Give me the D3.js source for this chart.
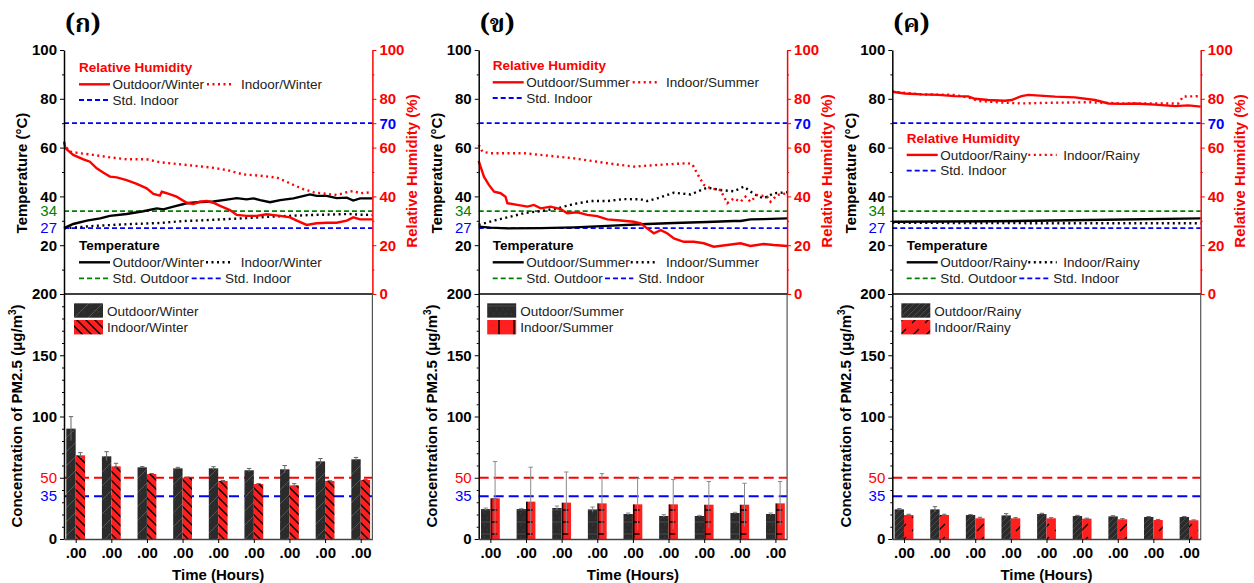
<!DOCTYPE html>
<html><head><meta charset="utf-8">
<script src="https://cdn.jsdelivr.net/npm/d3@7"></script>
<style>
body{margin:0;background:#fff;}
svg{display:block;font-family:"Liberation Sans",Arial,sans-serif;}
</style></head><body>
<script>
// ---------- DATA ----------
const hourLabels = [".00",".00",".00",".00",".00",".00",".00",".00",".00"];
const panelTitles = ["(ก)","(ข)","(ค)"];
const seasons = ["Winter","Summer","Rainy"];

// temperature / RH series: [time progress %, value]
const tempOutWinter = [[0,27.0],[3,28.7],[7.4,30.1],[11.7,31.0],[14.9,32.0],[20.3,32.8],[25.7,33.9],[30.1,35.1],[32.2,34.7],[35.5,35.8],[39.8,37.2],[44.1,37.7],[48.4,37.9],[52.8,38.7],[56,39.3],[59.2,38.8],[61.4,39.2],[63.6,38.5],[66.8,37.6],[70.1,38.5],[74.4,39.2],[79.8,40.8],[81.9,40.2],[85.2,40.2],[88.4,39.3],[91.7,39.5],[93.8,38.3],[96,39.2],[100,39.2]];
const tempInWinter = [[0,26.9],[9.5,27.9],[20.3,28.6],[31.1,29.1],[38.7,29.9],[45.2,30.2],[52.8,30.7],[59.2,31.1],[65.7,31.6],[74.4,32.1],[80.9,32.4],[87.3,32.6],[92.7,32.8],[96,32.5],[100,32.4]];
const rhOutWinter = [[0,62.5],[0.4,60],[0.9,59.3],[3,57.0],[6.3,55.2],[8.4,54.2],[10.6,51.5],[12.8,49.7],[14.9,48.1],[17.1,47.8],[20.3,46.7],[23.6,45.1],[26.8,43.3],[29,41.0],[31.1,40.3],[31.7,41.9],[33.3,41.3],[36.5,39.9],[39.8,37.4],[41.9,36.9],[44.1,37.8],[46.3,38.1],[48.4,37.4],[50.6,36.1],[53.8,34.4],[56,32.4],[59.2,32.0],[62.5,32.0],[65.7,32.7],[70.1,32.0],[73.3,31.4],[75.5,30.1],[78.7,28.3],[81.9,29.0],[85.2,29.2],[88.4,29.2],[91.7,30.1],[93.8,31.4],[96,30.6],[100,30.6]];
const rhInWinter = [[0,62],[1,59.7],[1.9,58.3],[5.2,57.7],[9.5,57.0],[14.9,56.0],[20.3,55.2],[26.8,55.2],[31.1,54.0],[41.9,52.6],[47.4,51.9],[52.8,50.8],[58.2,49.0],[63.6,48.5],[69,47.7],[72.2,46.0],[74.4,44.7],[77.6,43.0],[80.9,41.7],[85.2,41.0],[88.4,40.6],[91.7,41.7],[93.8,42.2],[96,41.3],[100,41.7]];

const tempOutSummer = [[0,27.6],[3.9,27.2],[9.3,26.9],[20.1,27.0],[30.9,27.3],[41.7,27.9],[52.5,28.6],[63.3,29.1],[74.1,29.5],[82.7,29.9],[84.9,29.9],[88.1,30.6],[92.4,30.7],[100,31.0]];
const tempInSummer = [[0,28.3],[5,30.1],[9.3,31.4],[14.7,33.1],[20.1,34.0],[25.5,35.1],[30.9,36.9],[36.3,38.1],[41.7,38.1],[47.1,38.9],[52.5,38.8],[54.6,38.1],[57.9,39.2],[63.3,41.5],[68.7,40.8],[74.1,43.6],[78.4,42.6],[82.7,42.1],[86,44.0],[89.2,41.0],[92.4,39.2],[95.7,41.3],[100,41.7]];
const rhOutSummer = [[0,54.6],[0.6,52.2],[1.7,48.1],[3.3,44.7],[5,41.9],[7.1,41.3],[8.7,39.9],[9.3,37.2],[12.5,36.5],[15.8,35.8],[17.9,36.5],[20.1,35.1],[23.3,35.8],[26.6,34.8],[28.7,33.1],[32,33.5],[35.2,32.4],[38.4,31.9],[41.7,30.6],[46,30.1],[50.3,29.6],[52.5,29.0],[54.6,26.9],[56.8,24.9],[59,26.2],[61.1,24.9],[63.3,22.8],[66.5,21.4],[69.8,21.4],[73,20.8],[76.2,19.4],[80.6,20.1],[84.9,20.8],[88.1,19.7],[92.4,20.5],[95.7,20.1],[100,19.7]];
const rhInSummer = [[0,61.1],[1.2,58.3],[3.9,57.7],[14.7,57.7],[20.1,57.0],[30.9,55.6],[41.7,53.6],[50.3,52.2],[57.9,52.9],[67.6,53.6],[69.2,53.3],[70.8,49.5],[73,44.7],[75.2,43.3],[78.4,42.6],[80.6,37.2],[82.7,39.2],[84.9,37.8],[86.5,39.9],[88.1,37.8],[90.3,40.6],[93.5,39.9],[94.6,37.8],[96.8,40.6],[100,41.3]];

const tempOutRainy = [[0,29.6],[32.5,29.8],[63.6,30.3],[100,31.0]];
const tempInRainy = [[0,29.2],[50,29.0],[100,29.0]];
const rhOutRainy = [[0,82.9],[4.1,82.2],[9.5,81.8],[14.9,81.6],[20.3,81.1],[24.6,81.0],[26.8,80.0],[31.1,79.5],[36.5,79.2],[38.7,79.5],[41.9,81.1],[44.1,81.6],[52.8,80.9],[59.2,80.6],[65.7,79.5],[70.1,78.1],[74.4,77.9],[78.7,78.1],[85.2,77.6],[91.7,77.0],[96,77.3],[100,76.8]];
const rhInRainy = [[0,82.9],[9.5,81.8],[20.3,81.6],[25.7,80.2],[27.9,79.1],[36.5,78.4],[41.9,78.1],[52.8,78.4],[63.6,78.6],[74.4,78.1],[85.2,78.1],[92.7,78.1],[94.3,80.9],[100,81.1]];

// PM2.5 (µg/m3), 9 time points
const pmOutWinter    = [90.1,67.5,58.5,57.7,57.7,56.1,56.9,63.4,65.1];
const pmOutWinterErr = [9.8,3.8,0.6,0.8,1.3,1.5,3.1,2.3,1.5];
const pmInWinter     = [68.3,59.3,53.1,50.1,47.4,44.9,43.8,47.4,48.2];
const pmInWinterErr  = [2.2,2.5,0.4,0.4,0.3,0.3,1.4,0.2,0.3];
const pmOutSummer    = [24.5,24.5,25.3,24.2,20.4,18.8,18.8,21.2,20.4];
const pmOutSummerErr = [0.8,0.5,1.6,1.9,0.8,1.1,0.5,0.6,0.8];
const pmInSummer     = [33.2,30.5,29.7,29.1,28.3,28.3,28.0,28.0,29.1];
const pmInSummerErr  = [30.0,28.1,25.0,24.3,21.0,20.2,18.9,17.5,17.8];
const pmOutRainy     = [24.2,24.2,19.6,19.3,20.4,18.8,18.5,18.0,18.0];
const pmOutRainyErr  = [0.6,2.2,0.3,1.4,0.6,0.5,0.5,0.3,0.4];
const pmInRainy      = [19.6,19.6,16.9,16.9,16.9,16.6,16.1,15.5,15.3];
const pmInRainyErr   = [0.6,0.6,0.8,0.5,0.5,0.4,0.5,0.5,0.3];

const stdTempOutdoor = 34, stdTempIndoor = 27, stdRHIndoor = 70;
const stdPMThai = 50, stdPMWHO = 35;

// ---------- LAYOUT ----------
const TOP=50, MID=294, BOT=539, PW=308.4;
const RED="#ff0000", BLUE="#0000ff", GREEN="#008000";
const panels = [
  {L:64, title:panelTitles[0], season:seasons[0], tOut:tempOutWinter, tIn:tempInWinter, hOut:rhOutWinter, hIn:rhInWinter,
   pOut:pmOutWinter, pOutE:pmOutWinterErr, pIn:pmInWinter, pInE:pmInWinterErr, pat:"w", errC:"#666",
   rhY:67.7, lx:15, rhC2:[143,169,177], tC2:[142,167,176.7], tStd:[127.7,157.7,161], swX:10},
  {L:478.7, title:panelTitles[1], season:seasons[1], tOut:tempOutSummer, tIn:tempInSummer, hOut:rhOutSummer, hIn:rhInSummer,
   pOut:pmOutSummer, pOutE:pmOutSummerErr, pIn:pmInSummer, pInE:pmInSummerErr, pat:"s", errC:"#8a8a8a",
   rhY:65.7, lx:14, rhC2:[154,178.6,187.3], tC2:[152,178.6,187.3], tStd:[126.3,154.6,159.6], swX:8.5},
  {L:892.3, title:panelTitles[2], season:seasons[2], tOut:tempOutRainy, tIn:tempInRainy, hOut:rhOutRainy, hIn:rhInRainy,
   pOut:pmOutRainy, pOutE:pmOutRainyErr, pIn:pmInRainy, pInE:pmInRainyErr, pat:"r", errC:"#666",
   rhY:138.3, lx:14.4, rhC2:[136,164.4,171], tC2:[136,164.4,171], tStd:[127,156,161], swX:9}
];

const svg = d3.select("body").append("svg").attr("width",1254).attr("height",583);
const defs = svg.append("defs");

function pattern(id, w, h, bg, lines, x0){
  const p = defs.append("pattern").attr("id",id).attr("patternUnits","userSpaceOnUse")
    .attr("width",w).attr("height",h).attr("x",x0||0);
  p.append("rect").attr("width",w).attr("height",h).attr("fill",bg);
  lines.forEach(l=>p.append("path").attr("d",l.d).attr("stroke",l.c).attr("stroke-width",l.w).attr("fill","none"));
}
const DK="#2b2b2b", RD="#ff1f1f";
pattern("out_w",14,14,DK,[{d:"M-1,15 L15,-1",c:"#555",w:1},{d:"M0,4 h1 M7,10 h1 M3,11 h1 M10,3 h1",c:"#444",w:1}]);
pattern("in_w",9,9,RD,[{d:"M0,0 L9,9 M-3,6 L3,12 M6,-3 L12,3",c:"#000",w:1.4}]);
pattern("out_s",6,12,DK,[{d:"M0,6 L6,6",c:"#4a4a4a",w:1},{d:"M1,2 h1 M4,9 h1",c:"#444",w:1}]);
pattern("out_r",6,6,DK,[{d:"M-1,7 L7,-1",c:"#4a4a4a",w:1}]);
pattern("in_r",13,13,RD,[{d:"M2,11 L9,4",c:"#000",w:1.2}]);
pattern("in_s_leg",15,15,RD,[{d:"M4,0 L4,15",c:"#000",w:1.5}]);

function tickText(sel, size, weight, fill){
  sel.selectAll("text").attr("font-size",size).attr("font-weight",weight).attr("fill",fill)
     .attr("font-family","Liberation Sans, Arial, sans-serif");
}

panels.forEach(p=>{
  const L=p.L, R=L+PW;
  const g = svg.append("g");
  const yT = d3.scaleLinear().domain([0,100]).range([MID,TOP]);
  const yB = d3.scaleLinear().domain([0,200]).range([BOT,MID]);
  const xL = d3.scaleLinear().domain([0,100]).range([L,R]);
  const xB = d3.scaleLinear().domain([0.672,9.328]).range([L,R]);
  const step = xB(2)-xB(1);
  const bw = 9.4;

  if(p.pat==="s"){
    pattern("in_s_s",step,12,RD,[{d:"M0.8,0 L0.8,12",c:"#000",w:1.5},{d:"M0,6 L6.5,6",c:"#000",w:1.5}],xB(1));
  }
  const outFill = "url(#out_"+p.pat+")";
  const inFill = p.pat==="s" ? "url(#in_s_s)" : "url(#in_"+p.pat+")";
  const inLegFill = p.pat==="s" ? "url(#in_s_leg)" : inFill;

  // title
  g.append("text").attr("x",L+1).attr("y",32).attr("font-size",25).attr("font-weight","bold")
   .attr("font-family","'Noto Serif Thai','Noto Sans Thai','Loma','Garuda','Tlwg Typo','DejaVu Serif',serif")
   .text(p.title);

  // ----- top: standard lines
  const hl = (y,c,dash,w,x1,x2)=>g.append("line").attr("x1",x1).attr("x2",x2).attr("y1",y).attr("y2",y)
      .attr("stroke",c).attr("stroke-dasharray",dash).attr("stroke-width",w);
  hl(yT(stdRHIndoor),BLUE,"5,3",1.8,L,R);
  hl(yT(stdTempOutdoor),GREEN,"5,3",1.8,L,R);
  hl(yT(stdTempIndoor),BLUE,"5,3",1.8,L,R);

  const line = d3.line().x(d=>xL(d[0])).y(d=>yT(d[1]));
  g.append("path").attr("d",line(p.tIn)).attr("fill","none").attr("stroke","#000").attr("stroke-width",2.4).attr("stroke-dasharray","2,3.5");
  g.append("path").attr("d",line(p.hIn)).attr("fill","none").attr("stroke",RED).attr("stroke-width",2.4).attr("stroke-dasharray","2,3.5");
  g.append("path").attr("d",line(p.tOut)).attr("fill","none").attr("stroke","#000").attr("stroke-width",2.4);
  g.append("path").attr("d",line(p.hOut)).attr("fill","none").attr("stroke",RED).attr("stroke-width",2.4);

  // ----- bottom: standards + bars
  const hlB = (v,c)=>hl(yB(v),c,"10,5",2,L,R);
  hlB(stdPMThai,RED); hlB(stdPMWHO,BLUE);

  const idx = d3.range(9);
  g.selectAll(null).data(idx).join("rect")
    .attr("x",i=>xB(i+1)-bw).attr("width",bw).attr("y",i=>yB(p.pOut[i])).attr("height",i=>yB(0)-yB(p.pOut[i]))
    .attr("fill",outFill);
  g.selectAll(null).data(idx).join("rect")
    .attr("x",i=>xB(i+1)).attr("width",bw).attr("y",i=>yB(p.pIn[i])).attr("height",i=>yB(0)-yB(p.pIn[i]))
    .attr("fill",inFill);
  function errs(vals, errv, off){
    idx.forEach(i=>{
      const cx = xB(i+1)+off, y1=yB(vals[i]+errv[i]), y0=yB(Math.max(0,vals[i]-errv[i]));
      g.append("line").attr("x1",cx).attr("x2",cx).attr("y1",y1).attr("y2",y0).attr("stroke",p.errC).attr("stroke-width",1);
      g.append("line").attr("x1",cx-2.2).attr("x2",cx+2.2).attr("y1",y1).attr("y2",y1).attr("stroke",p.errC).attr("stroke-width",1);
    });
  }
  errs(p.pOut,p.pOutE,-bw/2);
  errs(p.pIn,p.pInE,bw/2);

  // ----- axes
  const ax = g.append("g");
  const a1 = ax.append("g").attr("transform",`translate(${L},0)`)
    .call(d3.axisLeft(yT).tickValues([0,20,40,60,80,100]).tickSize(4).tickSizeOuter(0).tickPadding(3).tickFormat(d=>d===0?"":d));
  tickText(a1,15,"bold","#000");
  ax.append("g").attr("transform",`translate(${L},0)`)
    .call(d3.axisLeft(yT).tickValues([10,30,50,70,90]).tickSize(2).tickFormat("")).select(".domain").remove();
  const a2 = ax.append("g").attr("transform",`translate(${R},0)`)
    .call(d3.axisRight(yT).tickValues([0,20,40,60,70,80,100]).tickSize(4).tickSizeOuter(0).tickPadding(3));
  tickText(a2,15,"bold",RED);
  a2.selectAll("text").filter(d=>d===70).attr("fill",BLUE);
  a2.selectAll("line").attr("stroke",RED); a2.select(".domain").attr("stroke",RED);
  const a2m = ax.append("g").attr("transform",`translate(${R},0)`)
    .call(d3.axisRight(yT).tickValues([10,30,50,90]).tickSize(2).tickFormat(""));
  a2m.select(".domain").remove(); a2m.selectAll("line").attr("stroke",RED);
  const lab = (x,y,t,c,anchor)=>ax.append("text").attr("x",x).attr("y",y).attr("dy","0.35em")
      .attr("text-anchor",anchor).attr("font-size",15).attr("fill",c).text(t);
  lab(L-7,yT(stdTempOutdoor),stdTempOutdoor,GREEN,"end");
  lab(L-7,yT(stdTempIndoor),stdTempIndoor,BLUE,"end");
  const a3 = ax.append("g").attr("transform",`translate(${L},0)`)
    .call(d3.axisLeft(yB).tickValues([0,50,100,150,200]).tickSize(4).tickSizeOuter(0).tickPadding(3).tickFormat(d=>d===50?"":d));
  tickText(a3,15,"bold","#000");
  ax.append("g").attr("transform",`translate(${L},0)`)
    .call(d3.axisLeft(yB).tickValues(d3.range(10,200,10).filter(v=>v%50)).tickSize(2).tickFormat("")).select(".domain").remove();
  lab(L-7,yB(stdPMThai),stdPMThai,RED,"end");
  lab(L-7,yB(stdPMWHO),stdPMWHO,BLUE,"end");
  const a4 = ax.append("g").attr("transform",`translate(0,${BOT})`)
    .call(d3.axisBottom(xB).tickValues(d3.range(1,10)).tickSize(4).tickSizeOuter(0).tickPadding(4).tickFormat((d,i)=>hourLabels[i]));
  tickText(a4,15,"bold","#000");
  a4.select(".domain").attr("stroke","#444");
  ax.append("line").attr("x1",L).attr("x2",R).attr("y1",MID).attr("y2",MID).attr("stroke","#000").attr("stroke-width",1.5);
  ax.append("line").attr("x1",R).attr("x2",R).attr("y1",MID).attr("y2",BOT).attr("stroke","#555").attr("stroke-width",1.2);
  ax.selectAll(".domain").attr("stroke-width",1.5);

  const rot = (x,y,t,c)=>ax.append("text").attr("transform",`translate(${x},${y}) rotate(-90)`)
      .attr("text-anchor","middle").attr("dy","0.35em").attr("font-size",15).attr("font-weight","bold").attr("fill",c).text(t);
  rot(L-42,173,"Temperature (°C)","#000");
  rot(R+39.5,171,"Relative Humidity (%)",RED);
  const c = ax.append("text").attr("transform",`translate(${L-47},416) rotate(-90)`)
      .attr("text-anchor","middle").attr("dy","0.35em").attr("font-size",15).attr("font-weight","bold");
  c.append("tspan").text("Concentration of PM2.5 (μg/m");
  c.append("tspan").attr("font-size",10).attr("dy","-0.6em").text("3");
  c.append("tspan").attr("dy","0.4em").text(")");
  ax.append("text").attr("x",(L+R)/2).attr("y",575).attr("dy","0.35em").attr("text-anchor","middle")
    .attr("font-size",15).attr("font-weight","bold").text("Time (Hours)");

  // ----- legends
  const lg = g.append("g").attr("font-size",13.5);
  const lline = (x1,x2,y,col,dash,w)=>lg.append("line").attr("x1",L+x1).attr("x2",L+x2).attr("y1",y).attr("y2",y)
      .attr("stroke",col).attr("stroke-width",w).attr("stroke-dasharray",dash);
  const ltxt = (x,y,t,col,bold)=>lg.append("text").attr("x",L+x).attr("y",y).attr("dy","0.35em")
      .attr("fill",col).attr("font-weight",bold?"bold":"normal").text(t);
  const lx=p.lx, ry=p.rhY;
  ltxt(lx,ry,"Relative Humidity",RED,true);
  lline(lx,lx+31,ry+16.6,RED,null,2.4); ltxt(lx+33.5,ry+16.6,"Outdoor/"+p.season,"#222");
  lline(p.rhC2[0],p.rhC2[1],ry+16.6,RED,"2,3.5",2.4); ltxt(p.rhC2[2],ry+16.6,"Indoor/"+p.season,"#222");
  lline(lx,lx+31,ry+32.3,BLUE,"5,3",1.8); ltxt(lx+33.5,ry+32.3,"Std. Indoor","#222");
  const ty=245.7;
  ltxt(lx,ty,"Temperature","#000",true);
  lline(lx,lx+31,ty+16.6,"#000",null,2.4); ltxt(lx+33.5,ty+16.6,"Outdoor/"+p.season,"#222");
  lline(p.tC2[0],p.tC2[1],ty+16.6,"#000","2,3.5",2.4); ltxt(p.tC2[2],ty+16.6,"Indoor/"+p.season,"#222");
  lline(lx,lx+31,ty+32.6,GREEN,"5,3",1.8); ltxt(lx+33.5,ty+32.6,"Std. Outdoor","#222");
  lline(p.tStd[0],p.tStd[1],ty+32.6,BLUE,"5,3",1.8); ltxt(p.tStd[2],ty+32.6,"Std. Indoor","#222");
  lg.append("rect").attr("x",L+p.swX).attr("y",303.3).attr("width",29).attr("height",14.4).attr("fill",outFill);
  lg.append("rect").attr("x",L+p.swX).attr("y",320).attr("width",29).attr("height",14.4).attr("fill",inLegFill);
  ltxt(p.swX+33,311.3,"Outdoor/"+p.season,"#222");
  ltxt(p.swX+33,327.5,"Indoor/"+p.season,"#222");
});
</script>
</body></html>
